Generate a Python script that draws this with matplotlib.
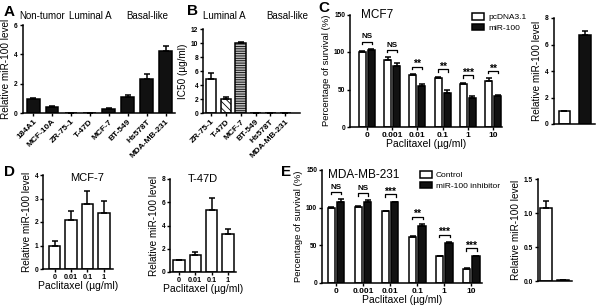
"""Recreate multi-panel miR-100 / paclitaxel figure."""

import matplotlib
matplotlib.use("Agg")
import matplotlib.pyplot as plt
import numpy as np
from matplotlib.patches import Patch

plt.rcParams["font.family"] = ["Liberation Sans", "DejaVu Sans"]
plt.rcParams["hatch.linewidth"] = 0.6

W, H = 600, 308

# Panel A
a_cells = ["184A1", "MCF-10A", "ZR-75-1", "T-47D", "MCF-7", "BT-549", "Hs578T", "MDA-MB-231"]
a_vals = [1.0, 0.45, 0.03, 0.03, 0.28, 1.1, 2.35, 4.25]
a_err = [0.05, 0.04, 0.0, 0.0, 0.05, 0.15, 0.3, 0.32]

# Panel B
b_cells = ["ZR-75-1", "T-47D", "MCF-7", "BT-549", "Hs578T", "MDA-MB-231"]
b_vals = [4.9, 2.1, 10.0, 0.05, 0.05, 0.05]
b_err = [0.8, 0.2, 0.2, 0.0, 0.0, 0.0]

# Panel C
doses = ["0", "0.001", "0.01", "0.1", "1", "10"]
c_ctrl = [100, 90, 69, 66, 58, 61]
c_ctrl_err = [2, 3, 1.5, 1, 1, 4]
c_mir = [103, 82, 55, 46, 39, 42]
c_mir_err = [1, 3, 2, 3, 3, 1]
c_sig = ["NS", "NS", "**", "**", "***", "**"]
c_level = [1.0, 6.7]
c_level_err = [0.0, 0.3]

# Panel D
d_doses = ["0", "0.01", "0.1", "1"]
d_mcf7 = [1.0, 2.1, 2.75, 2.4]
d_mcf7_err = [0.2, 0.35, 0.55, 0.5]
d_t47d = [1.0, 1.45, 5.3, 3.25]
d_t47d_err = [0.05, 0.25, 1.05, 0.45]

# Panel E
e_ctrl = [100, 101, 95, 61, 35, 18]
e_ctrl_err = [0.5, 1, 1, 1.5, 1, 1]
e_inh = [107, 108, 107, 76, 53, 35]
e_inh_err = [4, 1.5, 0.5, 2, 1, 1]
e_sig = ["NS", "NS", "***", "**", "***", "***"]
e_level = [1.07, 0.02]
e_level_err = [0.1, 0.0]

fig = plt.figure(figsize=(W / 100, H / 100), dpi=100)


def px_axes(left, top, right, bottom):
    return fig.add_axes([left / W, 1 - bottom / H, (right - left) / W, (bottom - top) / H])


def style(ax, ylabel, yticks, ylabel_size=7.2):
    for s in ("top", "right"):
        ax.spines[s].set_visible(False)
    for s in ("left", "bottom"):
        ax.spines[s].set_linewidth(1.1)
    ax.tick_params(direction="out", length=2.5, width=1.0, labelsize=4.8, pad=1)
    ax.set_yticks(yticks)
    ax.set_ylim(yticks[0], yticks[-1])
    for lab in ax.get_yticklabels():
        lab.set_fontweight("bold")
    ax.set_ylabel(ylabel, fontsize=ylabel_size, labelpad=2)


def bars(ax, x, vals, err, width, **kw):
    kw.setdefault("edgecolor", "black")
    kw.setdefault("linewidth", 1.1)
    ax.bar(x, vals, width, zorder=2, **kw)
    ax.errorbar(x, vals, yerr=[np.zeros(len(vals)), err], fmt="none",
                ecolor="black", elinewidth=1.1, capsize=2.5, capthick=1.1, zorder=3)


def brackets(ax, x, top_vals, labels, half=0.2, drop=3.5):
    for xi, yv, lab in zip(x, top_vals, labels):
        y = yv + 10
        ax.plot([xi - half, xi - half, xi + half, xi + half], [y - drop, y, y, y - drop],
                color="black", lw=0.9, clip_on=False)
        if lab == "NS":
            ax.text(xi, y + 1.5, lab, ha="center", va="bottom", fontsize=5.8, fontweight="bold")
        else:
            ax.text(xi, y - 3.5, lab, ha="center", va="bottom", fontsize=7.5, fontweight="bold")


# ---- A
ax = px_axes(22.5, 25, 175, 113.3)
xa = np.arange(len(a_cells))
bars(ax, xa, a_vals, a_err, 0.68, color="#111111")
style(ax, "Relative miR-100 level", [0, 2, 4, 6])
ax.set_xlim(-0.56, 7.5)
ax.set_xticks(xa)
ax.set_xticklabels(a_cells, rotation=45, ha="right", rotation_mode="anchor",
                   fontsize=6, fontweight="bold")
for name, xc in [("Non-tumor", 42), ("Luminal A", 90), ("Basal-like", 147)]:
    fig.text(xc / W, 1 - 16 / H, name, ha="center", va="center", fontsize=7)

# ---- B
ax = px_axes(203, 29, 300, 113.3)
xb = np.arange(len(b_cells))
faces = ["white", "white", "#bbbbbb", "#111111", "#111111", "#111111"]
hatches = [None, "\\\\\\\\\\", "-------", None, None, None]
for xi, v, e, fc, hh in zip(xb, b_vals, b_err, faces, hatches):
    bars(ax, [xi], [v], [e], 0.72, color=fc, hatch=hh)
style(ax, "IC50 (\u00b5g/ml)", [0, 2, 4, 6, 8, 10, 12])
ax.set_xlim(-0.55, 6.0)
ax.set_xticks(xb)
ax.set_xticklabels(b_cells, rotation=45, ha="right", rotation_mode="anchor",
                   fontsize=6, fontweight="bold")
fig.text(224 / W, 1 - 16 / H, "Luminal A", ha="center", va="center", fontsize=7)
fig.text(287 / W, 1 - 16 / H, "Basal-like", ha="center", va="center", fontsize=7)

# ---- C
ax = px_axes(350, 14.5, 502, 127)
xc = np.arange(len(doses))
bars(ax, xc - 0.18, c_ctrl, c_ctrl_err, 0.28, color="white")
bars(ax, xc + 0.18, c_mir, c_mir_err, 0.28, color="#111111")
style(ax, "Percentage of survival (%)", [0, 50, 100, 150], ylabel_size=6.8)
ax.set_xlim(-0.67, 5.35)
ax.set_xticks(xc)
ax.set_xticklabels(doses, fontsize=6, fontweight="bold")
ax.set_xlabel("Paclitaxel (\u00b5g/ml)", fontsize=7.5, labelpad=0)
tops = [max(a + ae, b + be) for a, ae, b, be in zip(c_ctrl, c_ctrl_err, c_mir, c_mir_err)]
brackets(ax, xc, tops, c_sig)
ax.text(0.07, 1.0, "MCF7", transform=ax.transAxes, fontsize=8.5, va="center", ha="left")
ax.legend([Patch(facecolor="white", edgecolor="black", lw=1.1),
           Patch(facecolor="#111111", edgecolor="black", lw=1.1)],
          ["pcDNA3.1", "miR-100"], loc="upper left",
          bbox_to_anchor=(468 / W, 1 - 9 / H), bbox_transform=fig.transFigure,
          frameon=False, fontsize=6, handlelength=1.4, handleheight=0.8,
          handletextpad=0.5, labelspacing=0.3, borderpad=0)

# ---- C right
ax = px_axes(553.5, 18, 595, 124)
bars(ax, [0, 1], c_level, c_level_err, 0.55, color=["white", "#111111"])
style(ax, "Relative miR-100 level", [0, 2, 4, 6, 8])
ax.set_xlim(-0.52, 1.48)
ax.set_xticks([])

# ---- D MCF-7
ax = px_axes(43, 175, 113, 269)
xd = np.arange(len(d_doses))
bars(ax, xd, d_mcf7, d_mcf7_err, 0.7, color="white")
style(ax, "Relative miR-100 level", [0, 1, 2, 3, 4])
ax.set_xlim(-0.7, 3.55)
ax.set_xticks(xd)
ax.set_xticklabels(d_doses, fontsize=5.2, fontweight="bold")
ax.set_xlabel("Paclitaxel (\u00b5g/ml)", fontsize=7.5, labelpad=0)
ax.text(0.63, 0.97, "MCF-7", transform=ax.transAxes, fontsize=8, ha="center", va="center")

# ---- D T-47D
ax = px_axes(170, 179, 236, 272)
bars(ax, xd, d_t47d, d_t47d_err, 0.7, color="white")
style(ax, "Relative miR-100 level", [0, 2, 4, 6, 8])
ax.set_xlim(-0.55, 3.5)
ax.set_xticks(xd)
ax.set_xticklabels(d_doses, fontsize=5.2, fontweight="bold")
ax.set_xlabel("Paclitaxel (\u00b5g/ml)", fontsize=7.5, labelpad=0)
ax.text(0.5, 1.0, "T-47D", transform=ax.transAxes, fontsize=8, ha="center", va="center")

# ---- E
ax = px_axes(322, 170, 482, 282.7)
bars(ax, xc - 0.17, e_ctrl, e_ctrl_err, 0.28, color="white")
bars(ax, xc + 0.17, e_inh, e_inh_err, 0.28, color="#111111")
style(ax, "Percentage of survival (%)", [0, 50, 100, 150], ylabel_size=6.8)
ax.set_xlim(-0.52, 5.4)
ax.set_xticks(xc)
ax.set_xticklabels(doses, fontsize=6, fontweight="bold")
ax.set_xlabel("Paclitaxel (\u00b5g/ml)", fontsize=7.5, labelpad=0)
tops = [max(a + ae, b + be) for a, ae, b, be in zip(e_ctrl, e_ctrl_err, e_inh, e_inh_err)]
brackets(ax, xc, tops, e_sig)
ax.text(0.04, 0.955, "MDA-MB-231", transform=ax.transAxes, fontsize=8.5, va="center", ha="left")
ax.legend([Patch(facecolor="white", edgecolor="black", lw=1.1),
           Patch(facecolor="#111111", edgecolor="black", lw=1.1)],
          ["Control", "miR-100 inhibitor"], loc="upper left",
          bbox_to_anchor=(416 / W, 1 - 167 / H), bbox_transform=fig.transFigure,
          frameon=False, fontsize=6, handlelength=1.4, handleheight=0.8,
          handletextpad=0.5, labelspacing=0.3, borderpad=0)

# ---- E right
ax = px_axes(538, 179, 572, 281)
bars(ax, [0, 1], e_level, e_level_err, 0.68, color=["white", "#111111"])
style(ax, "Relative miR-100 level", [0.0, 0.5, 1.0, 1.5])
ax.set_yticklabels(["0.0", "0.5", "1.0", "1.5"])
for lab in ax.get_yticklabels():
    lab.set_fontweight("bold")
ax.set_xlim(-0.46, 1.5)
ax.set_xticks([])

# panel letters
for letter, x, y in [("A", 4, 12), ("B", 187, 11), ("C", 318, 8), ("D", 4, 172), ("E", 281, 172)]:
    fig.text(x / W, 1 - y / H, letter, fontsize=11, fontweight="bold", va="center", ha="left")

fig.savefig("out.png", dpi=100)
